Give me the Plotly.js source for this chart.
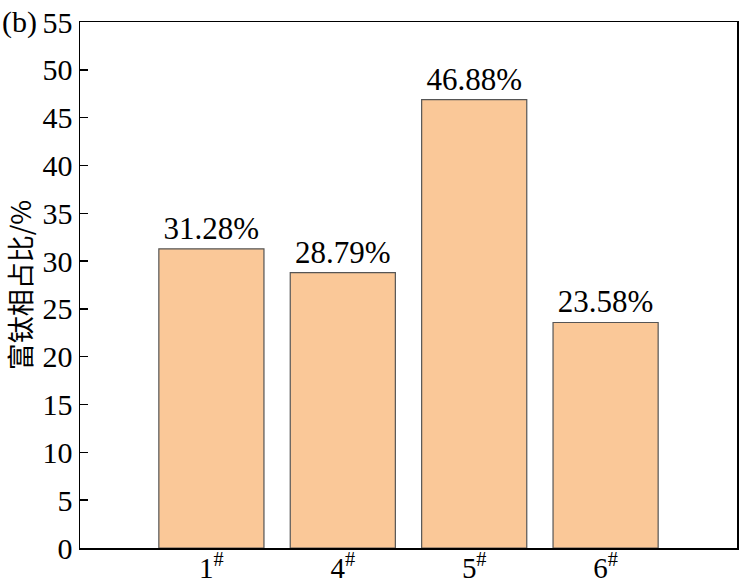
<!DOCTYPE html>
<html>
<head>
<meta charset="utf-8">
<script src="https://cdn.plot.ly/plotly-3.0.1.min.js"></script>
<style>html,body{margin:0;padding:0;background:#fff;}#chart{width:746px;height:587px;}</style>
</head>
<body>
<div id="chart"></div>
<script>
const categories = ["1<sup>#</sup>", "4<sup>#</sup>", "5<sup>#</sup>", "6<sup>#</sup>"];
const values = [31.28, 28.79, 46.88, 23.58];
const valueLabels = ["31.28%", "28.79%", "46.88%", "23.58%"];
const yTickVals = [0, 5, 10, 15, 20, 25, 30, 35, 40, 45, 50, 55];

const serif = "'Liberation Serif', 'Times New Roman', serif";

Plotly.newPlot("chart", [{
  type: "bar",
  x: [0, 1, 2, 3],
  y: values,
  width: 0.8,
  text: valueLabels,
  textposition: "outside",
  cliponaxis: false,
  textfont: {family: serif, size: 31, color: "#000"},
  marker: {color: "#FAC898", line: {color: "#555", width: 1.2}},
  hoverinfo: "none"
}], {
  width: 746, height: 587,
  margin: {l: 80, r: 9, t: 22, b: 39},
  paper_bgcolor: "#fff", plot_bgcolor: "#fff",
  showlegend: false,
  xaxis: {
    range: [-1, 4],
    tickmode: "array", tickvals: [0, 1, 2, 3], ticktext: categories,
    ticks: "", showgrid: false, zeroline: false,
    showline: true, linecolor: "#000", linewidth: 1.5, mirror: true,
    tickfont: {family: serif, size: 29, color: "#000"},
    ticklabelstandoff: -6
  },
  yaxis: {
    range: [0, 55],
    tickmode: "array", tickvals: yTickVals,
    ticks: "inside", ticklen: 8, tickwidth: 1.5, tickcolor: "#000",
    showgrid: false, zeroline: false,
    showline: true, linecolor: "#000", linewidth: 1.5, mirror: true,
    tickfont: {family: serif, size: 30, color: "#000"},
    title: {text: "富钛相占比/%", font: {family: "'Noto Sans CJK SC', " + serif, size: 27, color: "#000"}, standoff: 4}
  },
  bargap: 0.2,
  annotations: [{
    text: "(b)", xref: "paper", yref: "paper", x: -0.122, y: 1.0,
    xanchor: "left", yanchor: "middle", showarrow: false,
    font: {family: serif, size: 30, color: "#000"}
  }]
}, {staticPlot: true});
</script>
</body>
</html>
